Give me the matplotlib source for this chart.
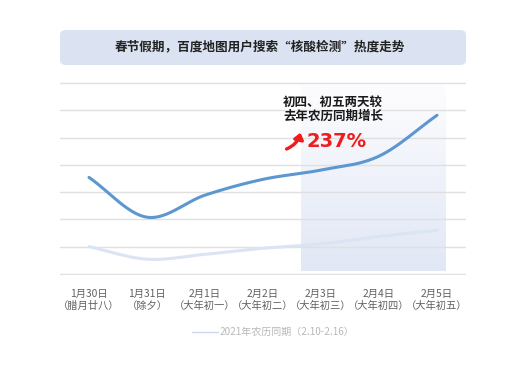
import matplotlib.pyplot as plt
import numpy as np
from matplotlib.patches import FancyBboxPatch, FancyArrowPatch
from matplotlib.colors import LinearSegmentedColormap

plt.rcParams['font.family'] = ['Noto Sans CJK SC', 'DejaVu Sans']

# data (relative units, 8 grid lines 0..7)
dates = ['1月30日', '1月31日', '2月1日', '2月2日', '2月3日', '2月4日', '2月5日']
lunar = ['（腊月廿八）', '（除夕）', '（大年初一）', '（大年初二）', '（大年初三）', '（大年初四）', '（大年初五）']
this_year = [3.54, 2.08, 2.89, 3.47, 3.81, 4.32, 5.82]
last_year = [1.0, 0.54, 0.72, 0.94, 1.1, 1.37, 1.6]
legend_label = '2021年农历同期（2.10-2.16）'

title = '春节假期，百度地图用户搜索“核酸检测”热度走势'
note = '初四、初五两天较\n去年农历同期增长'
pct = '237%'


def smooth(y, n=40):
    # cubic hermite curve through the points, for drawing only
    y = np.asarray(y, float)
    x = np.arange(len(y))
    m = np.gradient(y)
    xs, ys = [], []
    for i in range(len(y) - 1):
        t = np.linspace(0, 1, n)
        h00 = 2*t**3 - 3*t**2 + 1
        h10 = t**3 - 2*t**2 + t
        h01 = -2*t**3 + 3*t**2
        h11 = t**3 - t**2
        xs.append(x[i] + t)
        ys.append(h00*y[i] + h10*m[i] + h01*y[i+1] + h11*m[i+1])
    return np.concatenate(xs), np.concatenate(ys)


fig = plt.figure(figsize=(5.3, 3.78), dpi=100)
W, H = 530, 378

# title box
box = FancyBboxPatch((60/W, 1 - 65/H), 406/W, 35/H,
                     boxstyle='round,pad=0,rounding_size=0.012',
                     transform=fig.transFigure, facecolor='#dbe3f2',
                     edgecolor='none')
fig.patches.append(box)
fig.text(260/W, 1 - 47/H, title, ha='center', va='center',
         fontsize=9.1, fontweight='bold', color='#222222')

ax = fig.add_axes([60/W, 1 - 275/H, 406/W, 193/H])
ax.set_xlim(-0.5, 6.5)
ax.set_ylim(-0.04, 7.04)
for s in ax.spines.values():
    s.set_visible(False)
ax.set_yticks(range(8))
ax.set_yticklabels([])
ax.tick_params(axis='y', length=0)
ax.grid(axis='y', color='#e0e0e0', linewidth=1, zorder=2)
ax.set_axisbelow(False)

# highlighted region with vertical gradient
grad = np.linspace(0, 1, 256).reshape(-1, 1)
cmap = LinearSegmentedColormap.from_list('g', ['#e1e7f5', '#fdfdff'])
ax.imshow(grad, cmap=cmap, extent=(3.65, 6.14, 0.09, 6.9), aspect='auto',
          origin='lower', zorder=0.5)

xs, ys = smooth(last_year)
ax.plot(xs, ys, color='#dbe4f3', linewidth=2.2, zorder=3,
        solid_capstyle='round')
xs, ys = smooth(this_year)
ax.plot(xs, ys, color='#5c97d0', linewidth=2.2, zorder=4,
        solid_capstyle='round')

ax.set_xticks(range(len(dates)))
ax.set_xticklabels([d + '\n' + l for d, l in zip(dates, lunar)],
                   fontsize=7.4, color='#606060', linespacing=1.25)
ax.tick_params(axis='x', length=0, pad=10)

# annotation
fig.text(283/W, 1 - 109/H, note, ha='left', va='center', fontsize=9,
         fontweight='bold', color='#1a1a1a', linespacing=1.1)
fig.text(306/W, 1 - 142/H, pct, ha='left', va='center', fontsize=14,
         fontweight='bold', color='#ee1c1c', family=['DejaVu Sans'])
arr = FancyArrowPatch((284/W, 1 - 150/H), (301/W, 1 - 130/H),
                      transform=fig.transFigure,
                      connectionstyle='arc3,rad=0.3',
                      arrowstyle='-|>,head_length=3.5,head_width=2.8',
                      color='#ee1c1c', linewidth=2.4)
fig.patches.append(arr)

# legend
fig.add_artist(plt.Line2D([192/W, 218/W], [1 - 332/H, 1 - 332/H],
                          transform=fig.transFigure, color='#cbd7ee',
                          linewidth=1))
fig.text(220/W, 1 - 332/H, legend_label, ha='left', va='center',
         fontsize=7.2, color='#b8b8b8')

fig.savefig('out.png', dpi=100, facecolor='white')
